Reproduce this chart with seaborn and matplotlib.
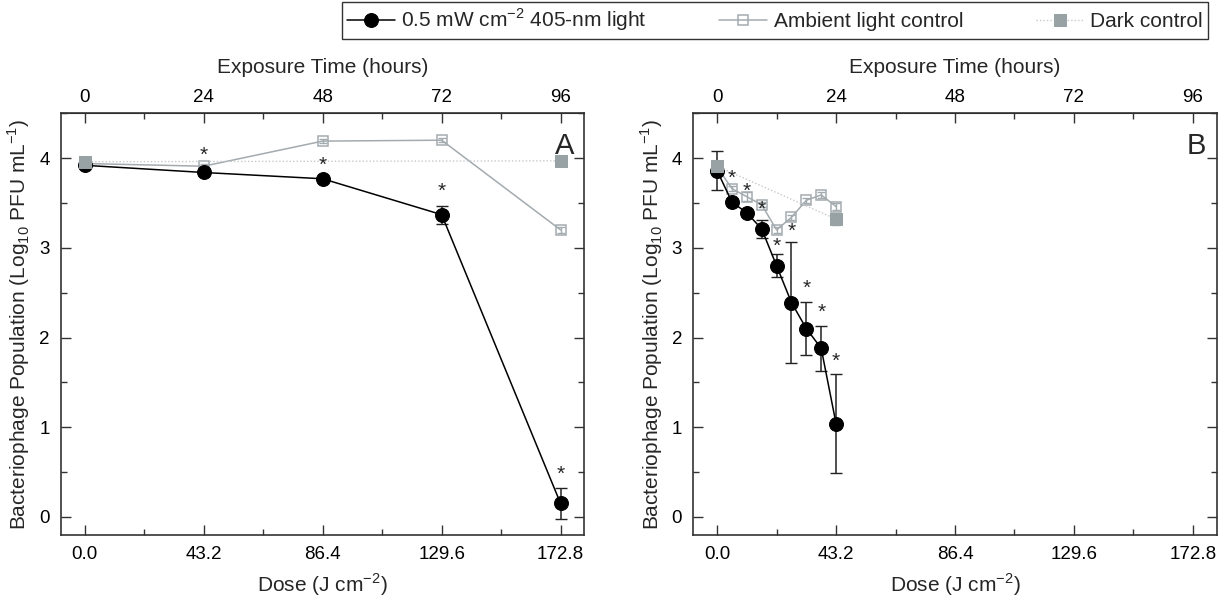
import numpy as np
import pandas as pd
import seaborn as sns
import matplotlib.pyplot as plt
from matplotlib.ticker import MultipleLocator

# ---- data ----
# panel A: 24 h sampling, 0-96 h
dose_a = [0.0, 43.2, 86.4, 129.6, 172.8]
light_a = [3.92, 3.84, 3.77, 3.37, 0.15]
light_a_err = [0.02, 0.03, 0.02, 0.10, 0.17]
ambient_a = [3.94, 3.91, 4.19, 4.20, 3.20]
ambient_a_err = [0.02, 0.02, 0.02, 0.02, 0.03]
dark_dose_a = [0.0, 172.8]
dark_a = [3.96, 3.97]
dark_a_err = [0.02, 0.02]
star_x_a = [43.2, 86.4, 129.6, 172.8]
star_y_a = [4.03, 3.92, 3.63, 0.47]

# panel B: 3 h sampling, 0-24 h
dose_b = [0.0, 5.4, 10.8, 16.2, 21.6, 27.0, 32.4, 37.8, 43.2]
light_b = [3.86, 3.51, 3.39, 3.21, 2.80, 2.39, 2.10, 1.88, 1.04]
light_b_err = [0.22, 0.03, 0.03, 0.10, 0.13, 0.67, 0.30, 0.25, 0.55]
ambient_b = [3.90, 3.66, 3.57, 3.48, 3.20, 3.34, 3.53, 3.59, 3.46]
ambient_b_err = [0.03, 0.03, 0.05, 0.03, 0.03, 0.03, 0.03, 0.03, 0.04]
dark_dose_b = [0.0, 43.2]
dark_b = [3.91, 3.32]
dark_b_err = [0.04, 0.06]
star_x_b = [5.4, 10.8, 16.2, 21.6, 27.0, 32.4, 37.8, 43.2]
star_y_b = [3.78, 3.63, 3.43, 3.02, 3.18, 2.55, 2.28, 1.74]

dose_ticks = [0.0, 43.2, 86.4, 129.6, 172.8]
hour_ticks = [0, 24, 48, 72, 96]

sns.set_style('ticks')
plt.rcParams['font.family'] = ['Liberation Sans', 'DejaVu Sans']
plt.rcParams['mathtext.fontset'] = 'custom'
plt.rcParams['mathtext.rm'] = 'Liberation Sans'

black = '#000000'
grey = '#a3abaf'
dark_grey = '#98a2a5'
dot_grey = '#c5c9cb'
spine = '#333333'
light_label = '0.5 mW cm$^{\\mathregular{-2}}$ 405-nm light'

fig = plt.figure(figsize=(12.2, 6.01), dpi=100)
ax_a = fig.add_axes([0.050, 0.110, 0.429, 0.7015])
ax_b = fig.add_axes([0.5683, 0.110, 0.429, 0.7015])


def panel(ax, dose, light, light_err, ambient, ambient_err,
          dark_dose, dark, dark_err, sx, sy, letter):
    df_light = pd.DataFrame({'dose': dose, 'value': light})
    df_amb = pd.DataFrame({'dose': dose, 'value': ambient})
    df_dark = pd.DataFrame({'dose': dark_dose, 'value': dark})

    ax.errorbar(dose, ambient, yerr=ambient_err, fmt='none', ecolor=grey,
                elinewidth=1, capsize=3, zorder=2)
    sns.lineplot(data=df_amb, x='dose', y='value', ax=ax, color=grey,
                 linewidth=1.1, marker='s', markersize=7.5,
                 markerfacecolor='none', markeredgecolor=grey,
                 markeredgewidth=1.1, label='Ambient light control', zorder=3)
    ax.errorbar(dose, light, yerr=light_err, fmt='none', ecolor='#222222',
                elinewidth=1.1, capsize=4, zorder=4)
    sns.lineplot(data=df_light, x='dose', y='value', ax=ax, color=black,
                 linewidth=1.1, marker='o', markersize=10,
                 markeredgecolor=black, label=light_label, zorder=5)
    ax.errorbar(dark_dose, dark, yerr=dark_err, fmt='none', ecolor=dark_grey,
                elinewidth=1, capsize=3, zorder=6)
    sns.lineplot(data=df_dark, x='dose', y='value', ax=ax, color=dot_grey,
                 linewidth=1, linestyle=(0, (1, 1.5)), marker='s',
                 markersize=8, markerfacecolor=dark_grey,
                 markeredgecolor=dark_grey, label='Dark control', zorder=7)

    for x, y in zip(sx, sy):
        ax.text(x, y, '*', ha='center', va='center', fontsize=15, zorder=8)

    ax.set_xlim(-8.64, 181.44)
    ax.set_ylim(-0.2, 4.5)
    ax.set_xticks(dose_ticks)
    ax.set_xticklabels([f'{d:.1f}' for d in dose_ticks])
    ax.xaxis.set_minor_locator(MultipleLocator(21.6))
    ax.set_yticks([0, 1, 2, 3, 4])
    ax.yaxis.set_minor_locator(MultipleLocator(0.5))
    ax.tick_params(which='both', direction='in', top=False, right=True,
                   colors=spine, labelcolor='black', labelsize=13.5, width=1)
    ax.tick_params(which='major', length=7, pad=8)
    ax.tick_params(which='minor', length=4)
    ax.set_xlabel('Dose (J cm$^{\\mathregular{-2}}$)', fontsize=15, labelpad=6)
    ax.set_ylabel('Bacteriophage Population (Log$_{\\mathregular{10}}$ PFU mL$^{\\mathregular{-1}}$)',
                  fontsize=15, labelpad=5)
    for s in ax.spines.values():
        s.set_visible(True)
        s.set_color(spine)
        s.set_linewidth(1.2)

    top = ax.secondary_xaxis('top', functions=(lambda d: d / 1.8, lambda h: h * 1.8))
    top.set_xticks(hour_ticks)
    top.xaxis.set_minor_locator(MultipleLocator(12))
    top.tick_params(which='both', direction='in', colors=spine,
                    labelcolor='black', labelsize=13.5, width=1)
    top.tick_params(which='major', length=7, pad=5)
    top.tick_params(which='minor', length=4)
    top.set_xlabel('Exposure Time (hours)', fontsize=15, labelpad=12)

    ax.text(0.98, 0.955, letter, transform=ax.transAxes, ha='right',
            va='top', fontsize=21)
    ax.get_legend().remove()


panel(ax_a, dose_a, light_a, light_a_err, ambient_a, ambient_a_err,
      dark_dose_a, dark_a, dark_a_err, star_x_a, star_y_a, 'A')
panel(ax_b, dose_b, light_b, light_b_err, ambient_b, ambient_b_err,
      dark_dose_b, dark_b, dark_b_err, star_x_b, star_y_b, 'B')

handles, labels = ax_a.get_legend_handles_labels()
order = [labels.index(l) for l in
         [light_label, 'Ambient light control', 'Dark control']]
leg = fig.legend([handles[i] for i in order], [labels[i] for i in order],
                 loc='upper right', bbox_to_anchor=(1208 / 1220, 1 - 1.5 / 601),
                 ncol=3, fontsize=15, frameon=True, fancybox=False,
                 edgecolor='black', handlelength=2.3, handletextpad=0.3,
                 columnspacing=3.5, borderpad=0.25, borderaxespad=0)
leg.get_frame().set_linewidth(1)

fig.savefig('out.png', dpi=100)
